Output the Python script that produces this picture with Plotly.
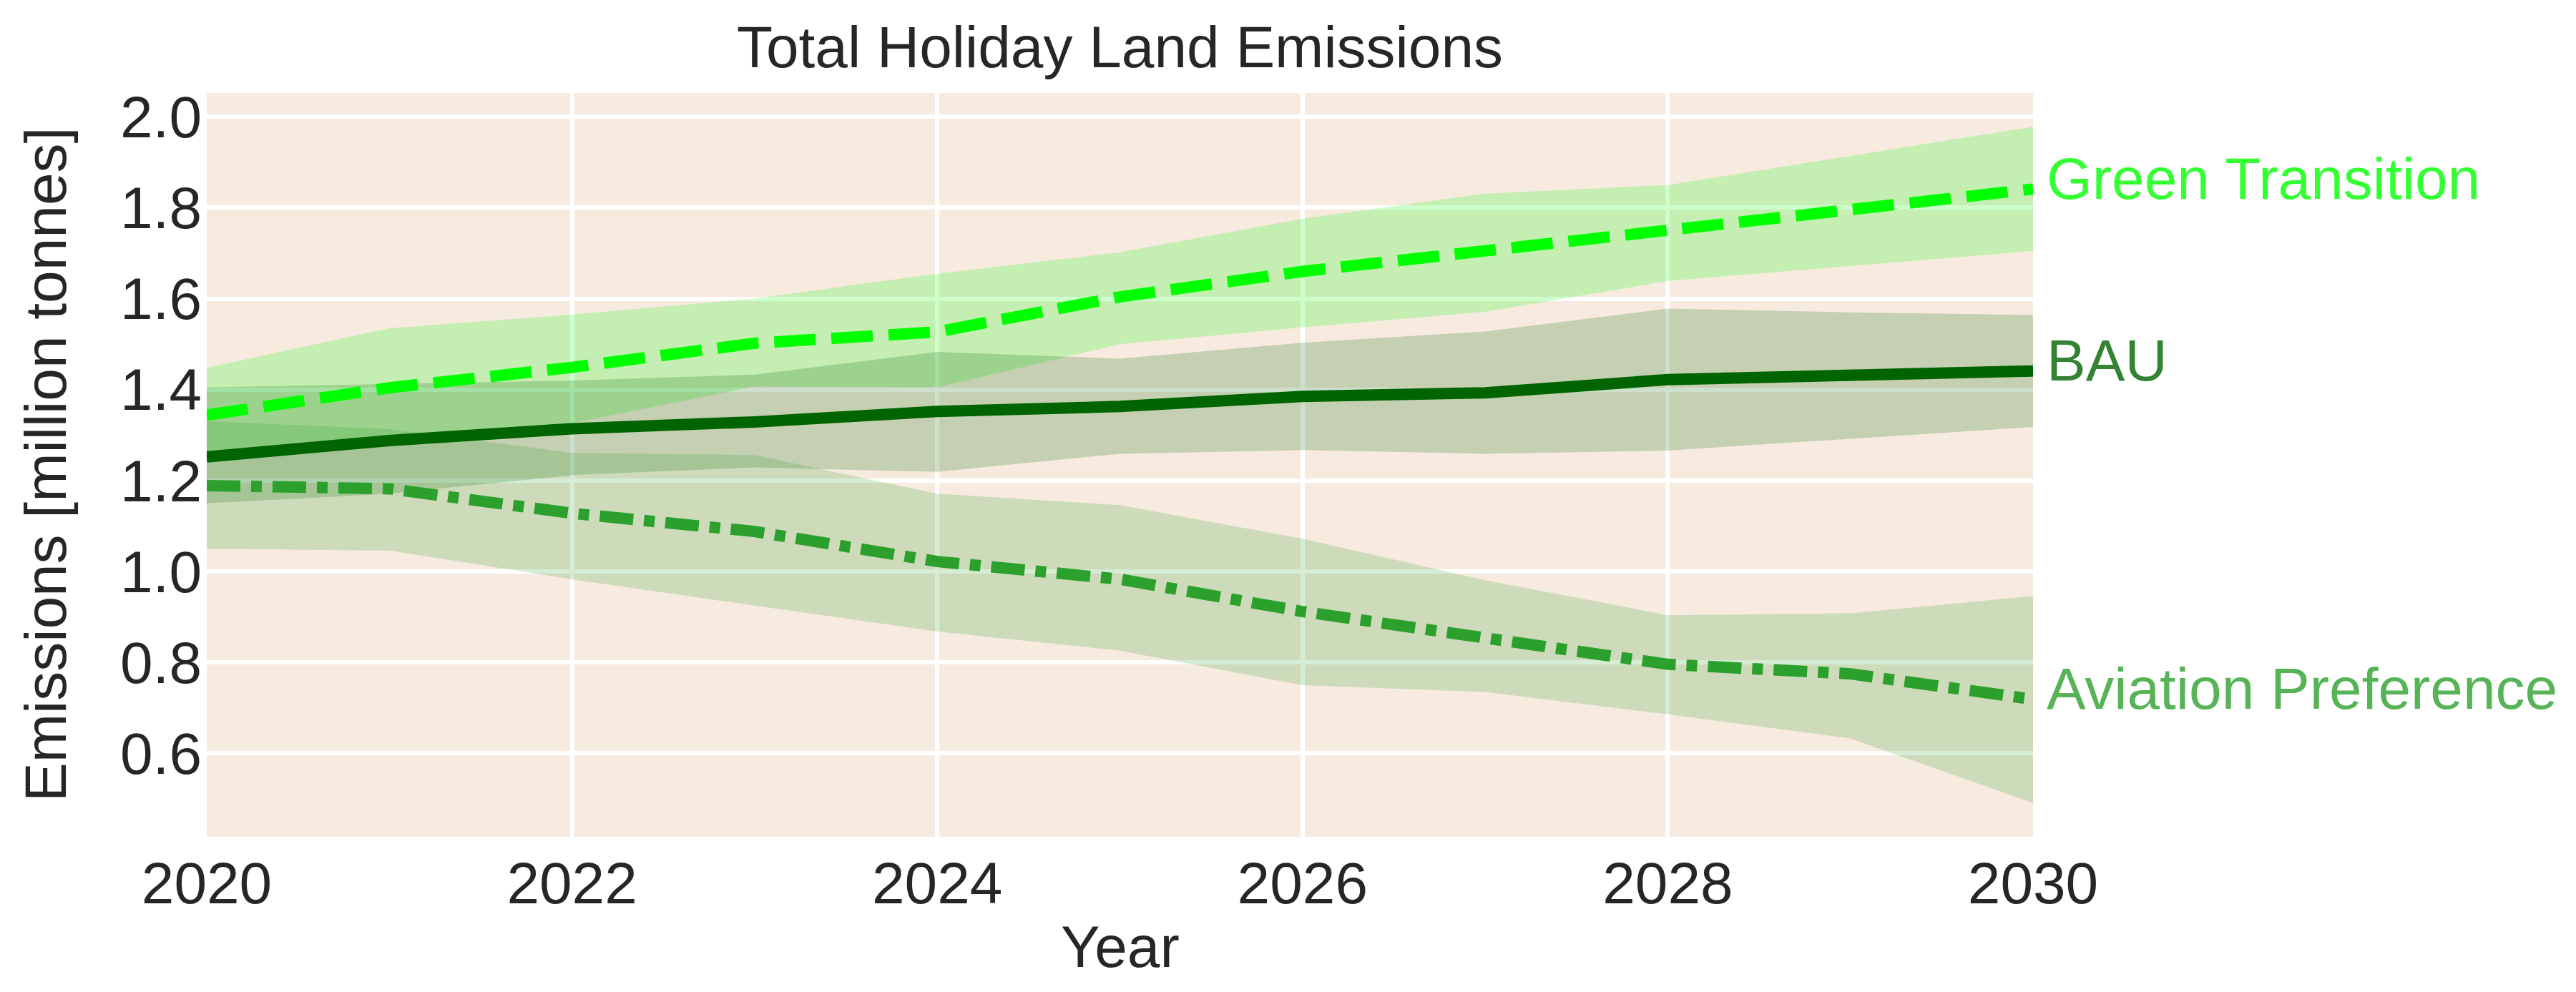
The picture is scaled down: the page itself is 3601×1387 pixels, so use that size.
import plotly.graph_objs as go

# годы прогноза
years = [2020, 2021, 2022, 2023, 2024, 2025, 2026, 2027, 2028, 2029, 2030]

# BAU
bau = [1.252, 1.288, 1.314, 1.329, 1.352, 1.363, 1.385, 1.393, 1.422, 1.431, 1.441]
bau_upper = [1.405, 1.413, 1.420, 1.433, 1.483, 1.468, 1.503, 1.528, 1.578, 1.570, 1.564]
bau_lower = [1.150, 1.171, 1.212, 1.229, 1.219, 1.259, 1.267, 1.259, 1.266, 1.292, 1.318]

# Green Transition
green = [1.344, 1.404, 1.449, 1.502, 1.527, 1.604, 1.660, 1.706, 1.748, 1.794, 1.841]
green_upper = [1.448, 1.535, 1.565, 1.600, 1.655, 1.702, 1.776, 1.831, 1.850, 1.914, 1.978]
green_lower = [1.239, 1.278, 1.326, 1.407, 1.405, 1.500, 1.537, 1.571, 1.639, 1.672, 1.705]

# Aviation Preference
aviation = [1.189, 1.182, 1.128, 1.088, 1.022, 0.983, 0.912, 0.851, 0.796, 0.775, 0.719]
aviation_upper = [1.331, 1.313, 1.261, 1.256, 1.171, 1.146, 1.072, 0.981, 0.904, 0.908, 0.946]
aviation_lower = [1.050, 1.046, 0.983, 0.925, 0.868, 0.826, 0.750, 0.735, 0.686, 0.633, 0.491]

FONT = "Liberation Sans, Arial, sans-serif"
TEXT_COLOR = "#262626"

scenarios = [
    # name, mean, upper, lower, rgb, dash
    ("Green Transition", green, green_upper, green_lower, (0, 255, 0), "58px,22px"),
    ("BAU", bau, bau_upper, bau_lower, (0, 100, 0), "solid"),
    ("Aviation Preference", aviation, aviation_upper, aviation_lower, (44, 160, 44),
     "47px,15px,15px,15px"),
]

fig = go.Figure()

# сначала все полосы неопределённости
for name, mean, upper, lower, rgb, dash in scenarios:
    fig.add_trace(go.Scatter(
        x=years + years[::-1], y=upper + lower[::-1],
        fill="toself", mode="lines", line=dict(width=0),
        fillcolor="rgba(%d,%d,%d,0.2)" % rgb,
        hoverinfo="skip", showlegend=False
    ))

# потом линии и подписи справа
for name, mean, upper, lower, rgb, dash in scenarios:
    fig.add_trace(go.Scatter(
        x=years, y=mean, mode="lines", name=name,
        line=dict(color="rgb(%d,%d,%d)" % rgb, width=16, dash=dash),
        showlegend=False
    ))
    fig.add_annotation(
        x=years[-1], y=mean[-1], text=name, showarrow=False,
        xanchor="left", yanchor="middle", xshift=17, yshift=15,
        font=dict(family=FONT, size=82, color="rgba(%d,%d,%d,0.8)" % rgb)
    )

# подписи осей
fig.add_annotation(
    text="Year", xref="paper", yref="paper", x=0.5, y=-0.148,
    showarrow=False, xanchor="center", yanchor="middle",
    font=dict(family=FONT, size=82, color=TEXT_COLOR)
)
fig.add_annotation(
    text="Emissions [million tonnes]", xref="paper", yref="paper",
    x=-0.0885, y=0.5, textangle=-90, showarrow=False,
    xanchor="center", yanchor="middle",
    font=dict(family=FONT, size=82, color=TEXT_COLOR)
)

all_low = min(bau_lower + green_lower + aviation_lower)
all_high = max(bau_upper + green_upper + aviation_upper)
pad = 0.05 * (all_high - all_low)

fig.update_layout(
    width=3601, height=1387,
    margin=dict(l=281, r=767, t=122, b=225),
    paper_bgcolor="white",
    plot_bgcolor="#F7EADF",
    font=dict(family=FONT, size=82, color=TEXT_COLOR),
    title=dict(
        text="Total Holiday Land Emissions",
        x=(281 + 2834) / 2 / 3601, xanchor="center",
        y=1 - 57 / 1387, yanchor="middle",
        font=dict(family=FONT, size=82, color=TEXT_COLOR)
    ),
    showlegend=False,
)

fig.update_xaxes(
    range=[2020, 2030], dtick=2, tick0=2020,
    showgrid=True, gridcolor="white", gridwidth=6,
    zeroline=False, showline=False,
    ticks="", ticklabelstandoff=10,
    tickfont=dict(family=FONT, size=82, color=TEXT_COLOR),
)

fig.update_yaxes(
    range=[all_low - pad, all_high + pad], dtick=0.2, tick0=0,
    tickformat=".1f",
    showgrid=True, gridcolor="white", gridwidth=6,
    zeroline=False, showline=False,
    ticks="", ticklabelstandoff=6,
    tickfont=dict(family=FONT, size=82, color=TEXT_COLOR),
)

fig.write_html("out.html")
